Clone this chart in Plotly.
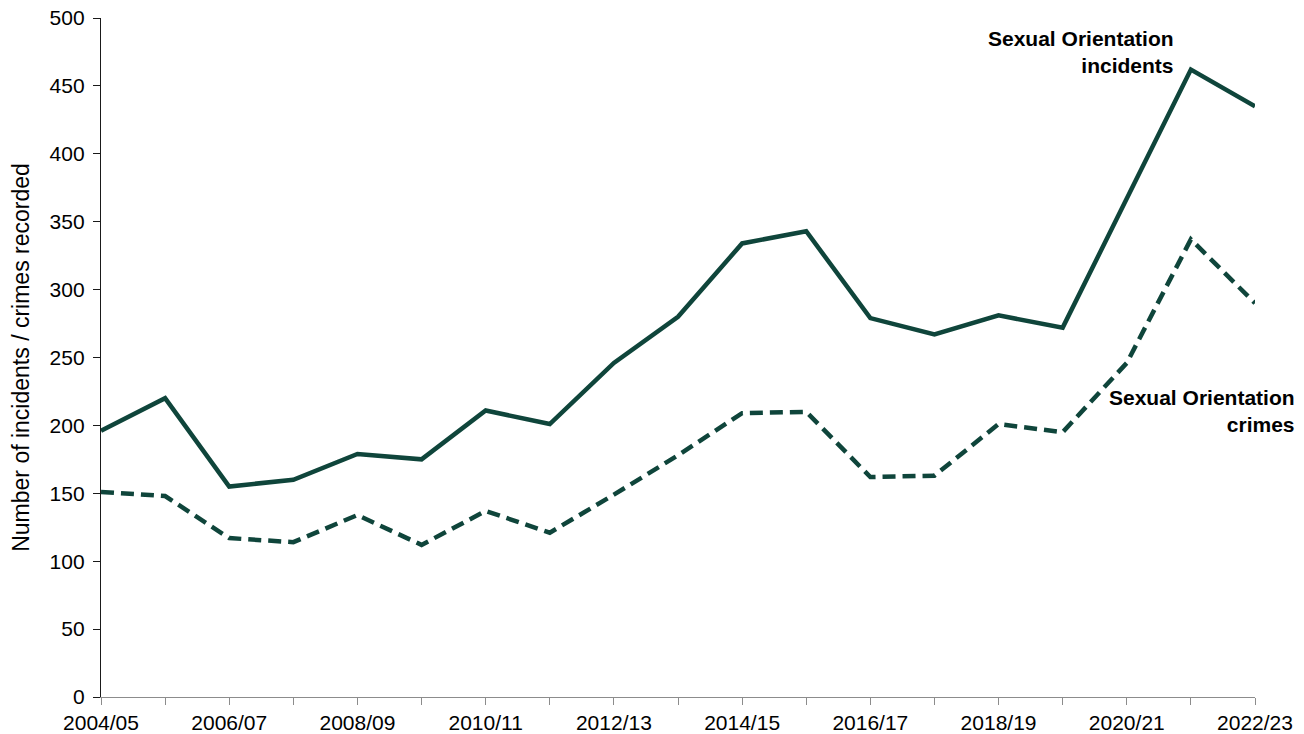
import plotly.graph_objects as go

years = ["2004/05", "2005/06", "2006/07", "2007/08", "2008/09", "2009/10", "2010/11",
         "2011/12", "2012/13", "2013/14", "2014/15", "2015/16", "2016/17", "2017/18",
         "2018/19", "2019/20", "2020/21", "2021/22", "2022/23"]
incidents = [196, 220, 155, 160, 179, 175, 211, 201, 246, 280, 334, 343, 279, 267, 281, 272, 367, 462, 435]
crimes = [151, 148, 117, 114, 134, 112, 137, 121, 149, 178, 209, 210, 162, 163, 201, 195, 246, 337, 290]
tick_text = [y if i % 2 == 0 else "" for i, y in enumerate(years)]
y_ticks = list(range(0, 501, 50))

color = "#0f453b"
font = "Liberation Sans, Arial, sans-serif"

fig = go.Figure()
fig.add_trace(go.Scatter(x=years, y=incidents, mode="lines",
                         line=dict(color=color, width=4.5), name="Sexual Orientation incidents"))
fig.add_trace(go.Scatter(x=years, y=crimes, mode="lines",
                         line=dict(color=color, width=4.5, dash="13px,7px"), name="Sexual Orientation crimes"))

# page body has an 8px margin; figure sized to fill the rest of the window
fig.update_layout(
    width=1296, height=726,
    margin=dict(l=93, r=49, t=10, b=37),
    paper_bgcolor="white", plot_bgcolor="white",
    showlegend=False,
    font=dict(family=font, size=21, color="black"),
    xaxis=dict(type="category", range=[0, len(years) - 1], tickmode="array",
               tickvals=years, ticktext=tick_text, showgrid=False,
               showline=True, linecolor="#8c8c8c", linewidth=1.3,
               ticks="outside", ticklen=7, tickcolor="#8c8c8c",
               tickfont=dict(size=21), automargin=False, ticklabeloverflow="allow"),
    yaxis=dict(range=[0, 500], tickmode="array", tickvals=y_ticks, showgrid=False,
               zeroline=False, showline=True, linecolor="#1a1a1a", linewidth=1.3,
               ticks="outside", ticklen=7, tickcolor="#1a1a1a",
               tickfont=dict(size=21), automargin=False, ticklabeloverflow="allow",
               ticklabelstandoff=4,
               title=dict(text="Number of incidents / crimes recorded", font=dict(size=23), standoff=17)),
    annotations=[
        dict(text="<b>Sexual Orientation<br>incidents</b>", xref="paper", yref="paper",
             x=(1176 - 101) / 1154, y=(697 - 52) / 679, xanchor="right", yanchor="middle", align="right",
             showarrow=False, font=dict(size=21, color="black")),
        dict(text="<b>Sexual Orientation<br>crimes</b>", xref="paper", yref="paper",
             x=(1297 - 101) / 1154, y=(697 - 411) / 679, xanchor="right", yanchor="middle", align="right",
             showarrow=False, font=dict(size=21, color="black")),
    ],
)

fig.write_html("out.html")
